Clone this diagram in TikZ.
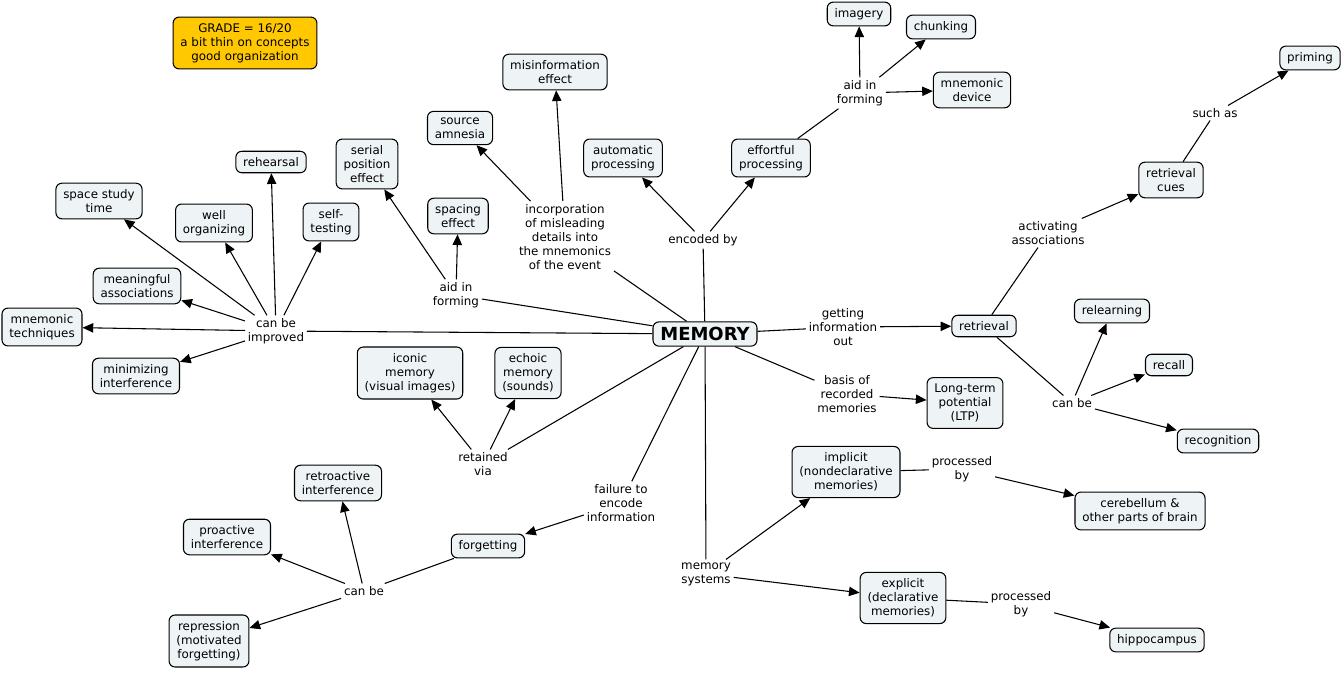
\documentclass[tikz,border=0pt]{standalone}
\usepackage{fontspec}
\setmainfont{DejaVu Sans}
\usetikzlibrary{arrows.meta}
\definecolor{boxfill}{RGB}{238,243,245}
\definecolor{gradefill}{RGB}{255,200,0}
\tikzset{
 concept/.style={draw=black, line width=0.8pt, fill=boxfill, rounded corners=4.5pt, align=center, inner xsep=5.5pt, inner ysep=4.6pt, font=\fontsize{8.9}{10.6}\selectfont},
 lbl/.style={align=center, inner sep=2pt, font=\fontsize{8.9}{10.6}\selectfont},
 link/.style={line width=0.8pt},
 arr/.style={line width=0.8pt, -{Triangle[length=8pt,width=7pt]}},
}
\begin{document}
\begin{tikzpicture}[x=0.75pt,y=-0.75pt]
\useasboundingbox (0,0) rectangle (1343,672);
% concepts
\node[concept, fill=gradefill] (grade) at (245,43) {GRADE = 16/20\\a bit thin on concepts\\good organization};
\node[concept, font=\fontsize{13.5}{15}\bfseries, inner ysep=4pt] (memory) at (705,334) {MEMORY};
\node[concept] (imagery) at (859,14) {imagery};
\node[concept] (chunking) at (941,27) {chunking};
\node[concept] (mnemdev) at (972,90) {mnemonic\\device};
\node[concept] (misinfo) at (555,72) {misinformation\\effect};
\node[concept] (source) at (460,128) {source\\amnesia};
\node[concept] (serial) at (367,164) {serial\\position\\effect};
\node[concept] (rehearsal) at (271,162) {rehearsal};
\node[concept] (space) at (99,201) {space study\\time};
\node[concept] (well) at (214,223) {well\\organizing};
\node[concept] (self) at (331,222) {self-\\testing};
\node[concept] (spacing) at (458,216) {spacing\\effect};
\node[concept] (auto) at (623,158) {automatic\\processing};
\node[concept] (effort) at (771,158) {effortful\\processing};
\node[concept] (priming) at (1310,58) {priming};
\node[concept] (cues) at (1171,180) {retrieval\\cues};
\node[concept] (meaning) at (137,286) {meaningful\\associations};
\node[concept] (mnemtech) at (42,327) {mnemonic\\techniques};
\node[concept] (minim) at (136,376) {minimizing\\interference};
\node[concept] (retrieval) at (984,326) {retrieval};
\node[concept] (relearn) at (1112,311) {relearning};
\node[concept] (recall) at (1169,365) {recall};
\node[concept] (recog) at (1218,441) {recognition};
\node[concept] (iconic) at (410,373) {iconic\\memory\\(visual images)};
\node[concept] (echoic) at (528,373) {echoic\\memory\\(sounds)};
\node[concept] (ltp) at (965,403) {Long-term\\potential\\(LTP)};
\node[concept] (implicit) at (846,472) {implicit\\(nondeclarative\\memories)};
\node[concept] (cereb) at (1140,511) {cerebellum \&\\other parts of brain};
\node[concept] (retro) at (338,483) {retroactive\\interference};
\node[concept] (pro) at (227,537) {proactive\\interference};
\node[concept] (forget) at (488,546) {forgetting};
\node[concept] (explicit) at (903,598) {explicit\\(declarative\\memories)};
\node[concept] (repress) at (209,641) {repression\\(motivated\\forgetting)};
\node[concept] (hippo) at (1157,640) {hippocampus};
% linking phrases
\node[lbl] (aidtop) at (860,93) {aid in\\forming};
\node[lbl] (suchas) at (1215,113) {such as};
\node[lbl] (activ) at (1048,233) {activating\\associations};
\node[lbl] (incorp) at (565,237) {incorporation\\of misleading\\details into\\the mnemonics\\of the event};
\node[lbl] (encoded) at (703,240) {encoded by};
\node[lbl] (aidleft) at (456,295) {aid in\\forming};
\node[lbl] (improved) at (276,331) {can be\\improved};
\node[lbl] (getting) at (843,327) {getting\\information\\out};
\node[lbl] (canber) at (1072,403) {can be};
\node[lbl] (basis) at (847,394) {basis of\\recorded\\memories};
\node[lbl] (retained) at (483,464) {retained\\via};
\node[lbl] (procup) at (962,469) {processed\\by};
\node[lbl] (failure) at (621,503) {failure to\\encode\\information};
\node[lbl] (systems) at (706,574) {memory\\systems};
\node[lbl] (proclow) at (1021,604) {processed\\by};
\node[lbl] (canbeb) at (364,591) {can be};
% connections
\draw[link] (memory) -- (improved);
\draw[arr] (improved) -- (mnemtech);
\draw[arr] (improved) -- (meaning);
\draw[arr] (improved) -- (minim);
\draw[arr] (improved) -- (space);
\draw[arr] (improved) -- (well);
\draw[arr] (improved) -- (rehearsal);
\draw[arr] (improved) -- (self);
\draw[link] (memory) -- (aidleft);
\draw[arr] (aidleft) -- (spacing);
\draw[arr] (aidleft) -- (serial);
\draw[link] (memory) -- (incorp);
\draw[arr] (incorp) -- (source);
\draw[arr] (incorp) -- (misinfo);
\draw[link] (memory) -- (encoded);
\draw[arr] (encoded) -- (auto);
\draw[arr] (encoded) -- (effort);
\draw[link] (effort) -- (aidtop);
\draw[arr] (aidtop) -- (imagery);
\draw[arr] (aidtop) -- (chunking);
\draw[arr] (aidtop) -- (mnemdev);
\draw[link] (memory) -- (getting);
\draw[arr] (getting) -- (retrieval);
\draw[link] (retrieval) -- (activ);
\draw[arr] (activ) -- (cues);
\draw[link] (cues) -- (suchas);
\draw[arr] (suchas) -- (priming);
\draw[link] (retrieval) -- (canber);
\draw[arr] (canber) -- (relearn);
\draw[arr] (canber) -- (recall);
\draw[arr] (canber) -- (recog);
\draw[link] (memory) -- (basis);
\draw[arr] (basis) -- (ltp);
\draw[link] (memory) -- (retained);
\draw[arr] (retained) -- (iconic);
\draw[arr] (retained) -- (echoic);
\draw[link] (memory) -- (failure);
\draw[arr] (failure) -- (forget);
\draw[link] (memory) -- (systems);
\draw[arr] (systems) -- (implicit);
\draw[arr] (systems) -- (explicit);
\draw[link] (implicit) -- (procup);
\draw[arr] (procup) -- (cereb);
\draw[link] (explicit) -- (proclow);
\draw[arr] (proclow) -- (hippo);
\draw[link] (forget) -- (canbeb);
\draw[arr] (canbeb) -- (retro);
\draw[arr] (canbeb) -- (pro);
\draw[arr] (canbeb) -- (repress);
\end{tikzpicture}
\end{document}
